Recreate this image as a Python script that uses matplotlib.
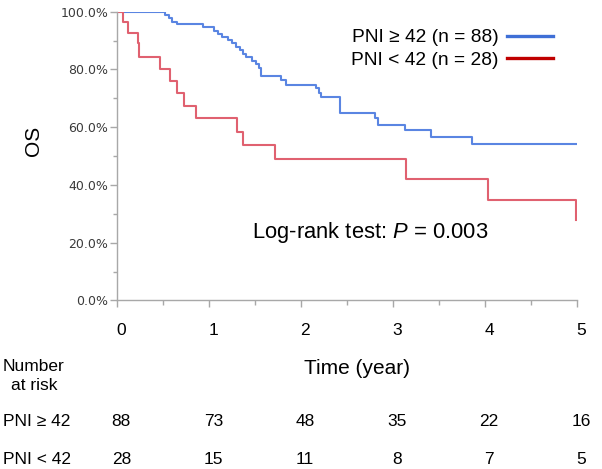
import matplotlib

matplotlib.use("Agg")
import matplotlib.pyplot as plt
import matplotlib.transforms as mtransforms
from matplotlib.lines import Line2D
from matplotlib.ticker import FixedLocator, MultipleLocator

plt.rcParams["font.family"] = ["Liberation Sans", "DejaVu Sans"]
plt.rcParams["mathtext.fontset"] = "custom"
plt.rcParams["mathtext.rm"] = "Liberation Sans"
plt.rcParams["mathtext.it"] = "Liberation Sans:italic"

# Kaplan-Meier steps (time in years, survival fraction)
high_t = [0.0, 0.52, 0.56, 0.60, 0.65, 0.93, 1.05, 1.10, 1.14, 1.20, 1.25, 1.29,
          1.33, 1.37, 1.40, 1.46, 1.51, 1.54, 1.56, 1.78, 1.84, 2.16, 2.19,
          2.22, 2.42, 2.80, 2.83, 3.13, 3.41, 3.86, 4.99]
high_s = [1.0, 0.989, 0.977, 0.966, 0.958, 0.946, 0.934, 0.924, 0.914, 0.903,
          0.890, 0.879, 0.867, 0.853, 0.842, 0.830, 0.819, 0.805, 0.777, 0.763,
          0.746, 0.735, 0.718, 0.704, 0.648, 0.631, 0.608, 0.590, 0.567, 0.542,
          0.542]
low_t = [0.0, 0.065, 0.12, 0.22, 0.24, 0.46, 0.57, 0.65, 0.73, 0.86, 1.30,
         1.37, 1.72, 3.14, 4.03, 4.99]
low_s = [1.0, 0.965, 0.927, 0.890, 0.844, 0.802, 0.761, 0.720, 0.673, 0.631,
         0.584, 0.538, 0.489, 0.420, 0.348, 0.279]

group_labels = ["PNI ≥ 42 (n = 88)", "PNI < 42 (n = 28)"]
risk_names = ["PNI ≥ 42", "PNI < 42"]
risk_times = [0, 1, 2, 3, 4, 5]
risk_high = [88, 73, 48, 35, 22, 16]
risk_low = [28, 15, 11, 8, 7, 5]

blue, red = "#5A85E2", "#E06170"
blue_leg, red_leg = "#3F6FD6", "#C00000"
gray = "#A8A8A8"

fig = plt.figure(figsize=(6.02, 4.69), dpi=100)
ax = fig.add_axes([0.1949, 0.3593, 0.7636, 0.6157])

ax.step(high_t, high_s, where="post", color=blue, lw=1.5)
ax.step(low_t, low_s, where="post", color=red, lw=1.5)

ax.set_xlim(0, 5)
ax.set_ylim(0, 1.0)
for side in ("top", "right"):
    ax.spines[side].set_visible(False)
for side in ("left", "bottom"):
    ax.spines[side].set_color(gray)
    ax.spines[side].set_linewidth(1.0)

ax.yaxis.set_major_locator(MultipleLocator(0.2))
ax.yaxis.set_minor_locator(MultipleLocator(0.1))
ax.set_yticklabels([f"{v * 100:.1f}%" for v in ax.get_yticks()])
ax.tick_params(axis="y", which="major", length=5, width=1, color=gray, pad=1.5,
               labelsize=9, labelcolor="#3a3a3a")
ax.tick_params(axis="y", which="minor", length=3, width=1, color=gray)
for lbl in ax.get_yticklabels():
    lbl.set_family("DejaVu Sans")

# labels sit a few pixels right of their ticks in the original
shift = mtransforms.ScaledTranslation(4 / 100, 0, fig.dpi_scale_trans)

ax.xaxis.set_major_locator(FixedLocator(risk_times))
ax.xaxis.set_minor_locator(MultipleLocator(0.5))
ax.tick_params(axis="x", which="major", length=5, width=1, color=gray, pad=11,
               labelsize=12.5, labelcolor="black")
ax.tick_params(axis="x", which="minor", length=3.5, width=1, color=gray)
for lbl in ax.get_xticklabels():
    lbl.set_transform(lbl.get_transform() + shift)

fig.text(34 / 602, 1 - 141 / 469, "OS", rotation=90, ha="center", va="center",
         fontsize=15)
fig.text(357 / 602, 1 - 368 / 469, "Time (year)", ha="center", va="center",
         fontsize=15)

ax.text(1.47, 0.237, "Log-rank test: $P$ = 0.003", ha="left", va="center",
        fontsize=15.8)

handles = [Line2D([], [], color=blue_leg, lw=2.4),
           Line2D([], [], color=red_leg, lw=2.4)]
ax.legend(handles, group_labels, loc="upper right", markerfirst=False,
          frameon=False, fontsize=13.8, handlelength=2.4, handletextpad=0.45,
          labelspacing=0.25, borderpad=0, borderaxespad=0,
          bbox_to_anchor=(553 / 602, 1 - 29 / 469), bbox_transform=fig.transFigure)

# number-at-risk table
fig.text(34 / 602, 1 - 376 / 469, "Number\nat risk", ha="center", va="center",
         fontsize=12.5, linespacing=1.35)
trans = mtransforms.blended_transform_factory(ax.transData, fig.transFigure)
for row_y, name, counts in [(1 - 421 / 469, risk_names[0], risk_high),
                            (1 - 459 / 469, risk_names[1], risk_low)]:
    fig.text(3 / 602, row_y, name, ha="left", va="center", fontsize=12.5)
    for t, n in zip(risk_times, counts):
        ax.text(t, row_y, str(n), transform=trans + shift, ha="center",
                va="center", fontsize=12.5, clip_on=False)

fig.savefig("out.png", dpi=100)
plt.close(fig)
